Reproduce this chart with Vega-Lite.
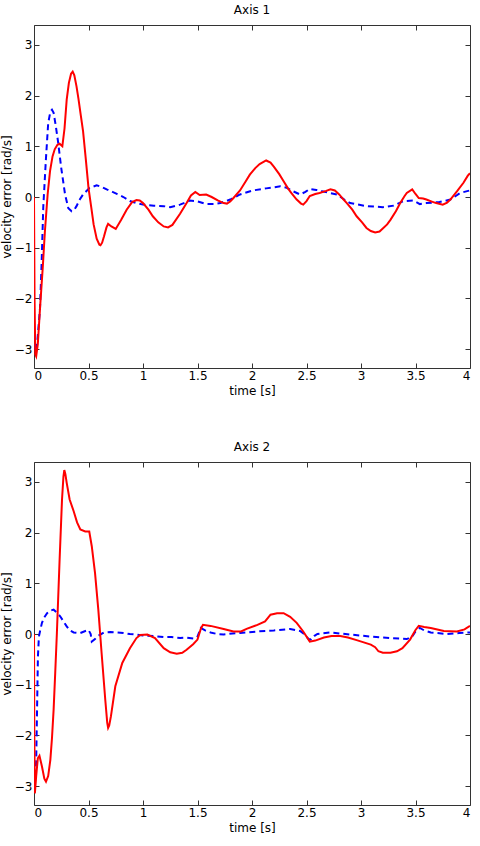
{
  "$schema": "https://vega.github.io/schema/vega-lite/v6.json",
  "background": "white",
  "padding": {"left": 0, "right": 0, "top": 3, "bottom": 0},
  "config": {
    "font": "DejaVu Sans",
    "view": {"stroke": null},
    "axis": {
      "grid": false,
      "domainColor": "#333333",
      "tickColor": "#333333",
      "tickSize": -5,
      "labelPadding": 7,
      "labelFont": "DejaVu Sans",
      "labelFontSize": 12,
      "labelColor": "#000000",
      "titleFont": "DejaVu Sans",
      "titleFontSize": 12,
      "titleFontWeight": "normal",
      "titleColor": "#000000"
    },
    "axisY": {"titlePadding": 1},
    "title": {"font": "DejaVu Sans", "fontSize": 12, "fontWeight": "normal", "color": "#000000", "offset": 8}
  },
  "datasets": {
    "a1_red": [
      {"t": 0, "v": 0}, {"t": 0.005, "v": -2.0}, {"t": 0.012, "v": -3.1}, {"t": 0.02, "v": -3.14}, {"t": 0.035, "v": -2.9},
      {"t": 0.055, "v": -2.2}, {"t": 0.08, "v": -1.4}, {"t": 0.1, "v": -0.68}, {"t": 0.125, "v": 0.05}, {"t": 0.147, "v": 0.51},
      {"t": 0.17, "v": 0.8}, {"t": 0.19, "v": 0.94}, {"t": 0.215, "v": 1.03}, {"t": 0.235, "v": 1.05}, {"t": 0.26, "v": 1.0},
      {"t": 0.28, "v": 1.35}, {"t": 0.3, "v": 1.92}, {"t": 0.32, "v": 2.25}, {"t": 0.34, "v": 2.43}, {"t": 0.355, "v": 2.47},
      {"t": 0.37, "v": 2.4}, {"t": 0.39, "v": 2.18}, {"t": 0.407, "v": 1.95}, {"t": 0.43, "v": 1.6}, {"t": 0.45, "v": 1.3},
      {"t": 0.475, "v": 0.75}, {"t": 0.5, "v": 0.18},
      {"t": 0.525, "v": -0.2}, {"t": 0.547, "v": -0.54}, {"t": 0.575, "v": -0.82}, {"t": 0.6, "v": -0.94}, {"t": 0.61, "v": -0.95},
      {"t": 0.625, "v": -0.9},
      {"t": 0.642, "v": -0.78}, {"t": 0.665, "v": -0.6}, {"t": 0.68, "v": -0.53}, {"t": 0.71, "v": -0.58}, {"t": 0.75, "v": -0.63},
      {"t": 0.8, "v": -0.45}, {"t": 0.85, "v": -0.25}, {"t": 0.9, "v": -0.1}, {"t": 0.94, "v": -0.06}, {"t": 0.97, "v": -0.07},
      {"t": 1.0, "v": -0.12}, {"t": 1.05, "v": -0.25}, {"t": 1.09, "v": -0.38}, {"t": 1.14, "v": -0.5}, {"t": 1.19, "v": -0.58},
      {"t": 1.23, "v": -0.6}, {"t": 1.27, "v": -0.55}, {"t": 1.34, "v": -0.33}, {"t": 1.4, "v": -0.12}, {"t": 1.44, "v": 0.03},
      {"t": 1.48, "v": 0.1}, {"t": 1.52, "v": 0.04}, {"t": 1.58, "v": 0.05}, {"t": 1.63, "v": 0.0}, {"t": 1.69, "v": -0.07},
      {"t": 1.74, "v": -0.12}, {"t": 1.77, "v": -0.13}, {"t": 1.8, "v": -0.09}, {"t": 1.83, "v": -0.02}, {"t": 1.89, "v": 0.13},
      {"t": 1.94, "v": 0.3}, {"t": 1.98, "v": 0.44}, {"t": 2.03, "v": 0.57}, {"t": 2.07, "v": 0.65}, {"t": 2.13, "v": 0.72},
      {"t": 2.17, "v": 0.68}, {"t": 2.2, "v": 0.6}, {"t": 2.25, "v": 0.45}, {"t": 2.29, "v": 0.31}, {"t": 2.33, "v": 0.17},
      {"t": 2.36, "v": 0.08}, {"t": 2.41, "v": -0.05}, {"t": 2.45, "v": -0.13}, {"t": 2.47, "v": -0.15}, {"t": 2.5, "v": -0.08},
      {"t": 2.53, "v": 0.02}, {"t": 2.58, "v": 0.06}, {"t": 2.62, "v": 0.08}, {"t": 2.68, "v": 0.12}, {"t": 2.72, "v": 0.15},
      {"t": 2.76, "v": 0.13}, {"t": 2.8, "v": 0.05}, {"t": 2.84, "v": -0.05}, {"t": 2.87, "v": -0.12}, {"t": 2.92, "v": -0.25},
      {"t": 2.96, "v": -0.38}, {"t": 3.01, "v": -0.5}, {"t": 3.05, "v": -0.61}, {"t": 3.09, "v": -0.67}, {"t": 3.13, "v": -0.7},
      {"t": 3.17, "v": -0.68}, {"t": 3.2, "v": -0.62}, {"t": 3.24, "v": -0.54}, {"t": 3.27, "v": -0.45}, {"t": 3.32, "v": -0.28},
      {"t": 3.36, "v": -0.12}, {"t": 3.4, "v": 0.02}, {"t": 3.42, "v": 0.08}, {"t": 3.47, "v": 0.15}, {"t": 3.5, "v": 0.06},
      {"t": 3.53, "v": -0.02}, {"t": 3.57, "v": -0.03}, {"t": 3.6, "v": -0.05}, {"t": 3.65, "v": -0.09}, {"t": 3.69, "v": -0.12},
      {"t": 3.75, "v": -0.15}, {"t": 3.79, "v": -0.11}, {"t": 3.82, "v": -0.05}, {"t": 3.88, "v": 0.11}, {"t": 3.94, "v": 0.28},
      {"t": 3.98, "v": 0.42}, {"t": 4.0, "v": 0.47}
    ],
    "a1_blue": [
      {"t": 0, "v": -2.7}, {"t": 0.01, "v": -3.05}, {"t": 0.025, "v": -2.98}, {"t": 0.04, "v": -2.6}, {"t": 0.055, "v": -2.2},
      {"t": 0.07, "v": -1.3}, {"t": 0.085, "v": -0.2}, {"t": 0.11, "v": 0.77}, {"t": 0.13, "v": 1.45}, {"t": 0.15, "v": 1.68},
      {"t": 0.165, "v": 1.72}, {"t": 0.18, "v": 1.66}, {"t": 0.2, "v": 1.4}, {"t": 0.22, "v": 1.1}, {"t": 0.25, "v": 0.57},
      {"t": 0.285, "v": 0.05}, {"t": 0.315, "v": -0.22}, {"t": 0.345, "v": -0.28}, {"t": 0.37, "v": -0.25}, {"t": 0.39, "v": -0.18},
      {"t": 0.42, "v": -0.05}, {"t": 0.45, "v": 0.05}, {"t": 0.51, "v": 0.18}, {"t": 0.575, "v": 0.23}, {"t": 0.62, "v": 0.2},
      {"t": 0.667, "v": 0.15}, {"t": 0.72, "v": 0.1}, {"t": 0.76, "v": 0.06}, {"t": 0.82, "v": 0.0}, {"t": 0.88, "v": -0.08},
      {"t": 0.94, "v": -0.12}, {"t": 1.0, "v": -0.15}, {"t": 1.1, "v": -0.17}, {"t": 1.19, "v": -0.18}, {"t": 1.25, "v": -0.2},
      {"t": 1.34, "v": -0.15}, {"t": 1.43, "v": -0.07}, {"t": 1.49, "v": -0.08}, {"t": 1.58, "v": -0.14}, {"t": 1.65, "v": -0.14},
      {"t": 1.71, "v": -0.12}, {"t": 1.8, "v": -0.05}, {"t": 1.89, "v": 0.05}, {"t": 2.01, "v": 0.13}, {"t": 2.13, "v": 0.17},
      {"t": 2.26, "v": 0.21}, {"t": 2.32, "v": 0.18}, {"t": 2.38, "v": 0.11}, {"t": 2.44, "v": 0.05}, {"t": 2.49, "v": 0.1},
      {"t": 2.53, "v": 0.16}, {"t": 2.59, "v": 0.14}, {"t": 2.65, "v": 0.11}, {"t": 2.78, "v": 0.05}, {"t": 2.84, "v": -0.04},
      {"t": 2.9, "v": -0.12}, {"t": 3.05, "v": -0.18}, {"t": 3.2, "v": -0.2}, {"t": 3.3, "v": -0.17}, {"t": 3.39, "v": -0.08},
      {"t": 3.48, "v": -0.07}, {"t": 3.54, "v": -0.14}, {"t": 3.6, "v": -0.12}, {"t": 3.72, "v": -0.1}, {"t": 3.82, "v": -0.05},
      {"t": 3.91, "v": 0.08}, {"t": 4.0, "v": 0.13}
    ],
    "a2_red": [
      {"t": 0, "v": 0}, {"t": 0.003, "v": -2.0}, {"t": 0.008, "v": -3.14}, {"t": 0.02, "v": -2.8}, {"t": 0.035, "v": -2.45},
      {"t": 0.05, "v": -2.4}, {"t": 0.073, "v": -2.61}, {"t": 0.095, "v": -2.85}, {"t": 0.11, "v": -2.91}, {"t": 0.13, "v": -2.8},
      {"t": 0.15, "v": -2.48}, {"t": 0.165, "v": -2.05}, {"t": 0.18, "v": -1.49}, {"t": 0.195, "v": -0.75}, {"t": 0.21, "v": 0.02},
      {"t": 0.235, "v": 1.47}, {"t": 0.257, "v": 2.65}, {"t": 0.27, "v": 3.1}, {"t": 0.278, "v": 3.23}, {"t": 0.288, "v": 3.15},
      {"t": 0.3, "v": 2.98}, {"t": 0.327, "v": 2.65},
      {"t": 0.364, "v": 2.42}, {"t": 0.395, "v": 2.2}, {"t": 0.425, "v": 2.06}, {"t": 0.47, "v": 2.02}, {"t": 0.507, "v": 2.02},
      {"t": 0.53, "v": 1.73}, {"t": 0.56, "v": 1.2}, {"t": 0.59, "v": 0.48}, {"t": 0.62, "v": -0.37}, {"t": 0.654, "v": -1.3},
      {"t": 0.672, "v": -1.75}, {"t": 0.68, "v": -1.85}, {"t": 0.69, "v": -1.8}, {"t": 0.706, "v": -1.62}, {"t": 0.746, "v": -1.03},
      {"t": 0.81, "v": -0.57}, {"t": 0.88, "v": -0.28},
      {"t": 0.94, "v": -0.08}, {"t": 0.975, "v": -0.02}, {"t": 1.04, "v": -0.01}, {"t": 1.11, "v": -0.08}, {"t": 1.19, "v": -0.28},
      {"t": 1.25, "v": -0.36}, {"t": 1.31, "v": -0.39}, {"t": 1.36, "v": -0.37}, {"t": 1.4, "v": -0.31}, {"t": 1.46, "v": -0.2},
      {"t": 1.5, "v": -0.11}, {"t": 1.53, "v": 0.1}, {"t": 1.55, "v": 0.18}, {"t": 1.62, "v": 0.16}, {"t": 1.74, "v": 0.1},
      {"t": 1.83, "v": 0.05}, {"t": 1.9, "v": 0.05}, {"t": 1.95, "v": 0.1}, {"t": 2.05, "v": 0.18}, {"t": 2.12, "v": 0.25},
      {"t": 2.17, "v": 0.38}, {"t": 2.23, "v": 0.41}, {"t": 2.29, "v": 0.41}, {"t": 2.35, "v": 0.34}, {"t": 2.41, "v": 0.22},
      {"t": 2.47, "v": 0.05}, {"t": 2.53, "v": -0.15}, {"t": 2.58, "v": -0.13}, {"t": 2.66, "v": -0.07}, {"t": 2.73, "v": -0.04},
      {"t": 2.81, "v": -0.04}, {"t": 2.88, "v": -0.07}, {"t": 2.96, "v": -0.12}, {"t": 3.09, "v": -0.21}, {"t": 3.13, "v": -0.26},
      {"t": 3.16, "v": -0.34}, {"t": 3.2, "v": -0.37}, {"t": 3.27, "v": -0.37}, {"t": 3.33, "v": -0.34}, {"t": 3.38, "v": -0.28},
      {"t": 3.45, "v": -0.11}, {"t": 3.5, "v": 0.08}, {"t": 3.53, "v": 0.16}, {"t": 3.58, "v": 0.14}, {"t": 3.64, "v": 0.12},
      {"t": 3.76, "v": 0.06}, {"t": 3.88, "v": 0.05}, {"t": 3.95, "v": 0.09}, {"t": 4.0, "v": 0.16}
    ],
    "a2_blue": [
      {"t": 0, "v": -3.0}, {"t": 0.01, "v": -2.9}, {"t": 0.02, "v": -2.5}, {"t": 0.028, "v": -1.5}, {"t": 0.036, "v": -0.45},
      {"t": 0.045, "v": -0.05}, {"t": 0.06, "v": 0.1}, {"t": 0.073, "v": 0.22}, {"t": 0.095, "v": 0.33}, {"t": 0.12, "v": 0.41},
      {"t": 0.15, "v": 0.46}, {"t": 0.18, "v": 0.48}, {"t": 0.21, "v": 0.42}, {"t": 0.24, "v": 0.35}, {"t": 0.27, "v": 0.25},
      {"t": 0.3, "v": 0.15}, {"t": 0.33, "v": 0.07}, {"t": 0.364, "v": 0.03}, {"t": 0.4, "v": 0.02}, {"t": 0.425, "v": 0.02},
      {"t": 0.46, "v": 0.05}, {"t": 0.5, "v": 0.08}, {"t": 0.52, "v": 0.0}, {"t": 0.53, "v": -0.15}, {"t": 0.56, "v": -0.1},
      {"t": 0.58, "v": -0.05}, {"t": 0.64, "v": 0.03}, {"t": 0.7, "v": 0.04}, {"t": 0.76, "v": 0.03}, {"t": 0.82, "v": 0.02},
      {"t": 0.88, "v": 0.0}, {"t": 0.94, "v": -0.01}, {"t": 1.0, "v": -0.03}, {"t": 1.1, "v": -0.04}, {"t": 1.19, "v": -0.06},
      {"t": 1.26, "v": -0.06}, {"t": 1.34, "v": -0.08}, {"t": 1.4, "v": -0.07}, {"t": 1.47, "v": -0.09}, {"t": 1.5, "v": -0.05},
      {"t": 1.53, "v": 0.12}, {"t": 1.57, "v": 0.07}, {"t": 1.62, "v": 0.03}, {"t": 1.68, "v": 0.0}, {"t": 1.74, "v": -0.01},
      {"t": 1.82, "v": 0.01}, {"t": 1.89, "v": 0.02}, {"t": 2.05, "v": 0.05}, {"t": 2.2, "v": 0.07}, {"t": 2.35, "v": 0.1},
      {"t": 2.44, "v": 0.06}, {"t": 2.48, "v": 0.0}, {"t": 2.52, "v": -0.1}, {"t": 2.54, "v": -0.11}, {"t": 2.57, "v": -0.04},
      {"t": 2.6, "v": 0.0}, {"t": 2.72, "v": 0.03}, {"t": 2.9, "v": -0.01}, {"t": 3.09, "v": -0.05}, {"t": 3.27, "v": -0.08},
      {"t": 3.42, "v": -0.1}, {"t": 3.47, "v": -0.05}, {"t": 3.5, "v": 0.05}, {"t": 3.54, "v": 0.12}, {"t": 3.58, "v": 0.07},
      {"t": 3.64, "v": 0.03}, {"t": 3.79, "v": 0.0}, {"t": 3.9, "v": 0.02}, {"t": 4.0, "v": 0.03}
    ]
  },
  "spacing": 44,
  "vconcat": [
    {
      "title": "Axis 1",
      "width": 436,
      "height": 343,
      "layer": [
        {
          "data": {"name": "a1_blue"},
          "mark": {"type": "line", "color": "#0000ff", "strokeWidth": 2, "strokeDash": [6, 4], "clip": true},
          "encoding": {
            "x": {"field": "t", "type": "quantitative", "scale": {"domain": [0, 4], "nice": false},
                  "axis": {"title": "time [s]", "values": [0, 0.5, 1, 1.5, 2, 2.5, 3, 3.5, 4], "format": "~g"}},
            "y": {"field": "v", "type": "quantitative", "scale": {"domain": [-3.37, 3.39], "nice": false, "zero": false},
                  "axis": {"title": "velocity error [rad/s]", "values": [-3, -2, -1, 0, 1, 2, 3]}}
          }
        },
        {
          "data": {"name": "a1_red"},
          "mark": {"type": "line", "color": "#ff0000", "strokeWidth": 2, "clip": true},
          "encoding": {
            "x": {"field": "t", "type": "quantitative", "axis": {"orient": "top", "labels": false, "title": null, "values": [0, 0.5, 1, 1.5, 2, 2.5, 3, 3.5, 4]}},
            "y": {"field": "v", "type": "quantitative", "axis": {"orient": "right", "labels": false, "title": null, "values": [-3, -2, -1, 0, 1, 2, 3]}}
          }
        }
      ],
      "resolve": {"axis": {"x": "independent", "y": "independent"}}
    },
    {
      "title": "Axis 2",
      "width": 436,
      "height": 343,
      "layer": [
        {
          "data": {"name": "a2_blue"},
          "mark": {"type": "line", "color": "#0000ff", "strokeWidth": 2, "strokeDash": [6, 4], "clip": true},
          "encoding": {
            "x": {"field": "t", "type": "quantitative", "scale": {"domain": [0, 4], "nice": false},
                  "axis": {"title": "time [s]", "values": [0, 0.5, 1, 1.5, 2, 2.5, 3, 3.5, 4], "format": "~g"}},
            "y": {"field": "v", "type": "quantitative", "scale": {"domain": [-3.37, 3.39], "nice": false, "zero": false},
                  "axis": {"title": "velocity error [rad/s]", "values": [-3, -2, -1, 0, 1, 2, 3]}}
          }
        },
        {
          "data": {"name": "a2_red"},
          "mark": {"type": "line", "color": "#ff0000", "strokeWidth": 2, "clip": true},
          "encoding": {
            "x": {"field": "t", "type": "quantitative", "axis": {"orient": "top", "labels": false, "title": null, "values": [0, 0.5, 1, 1.5, 2, 2.5, 3, 3.5, 4]}},
            "y": {"field": "v", "type": "quantitative", "axis": {"orient": "right", "labels": false, "title": null, "values": [-3, -2, -1, 0, 1, 2, 3]}}
          }
        }
      ],
      "resolve": {"axis": {"x": "independent", "y": "independent"}}
    }
  ]
}
